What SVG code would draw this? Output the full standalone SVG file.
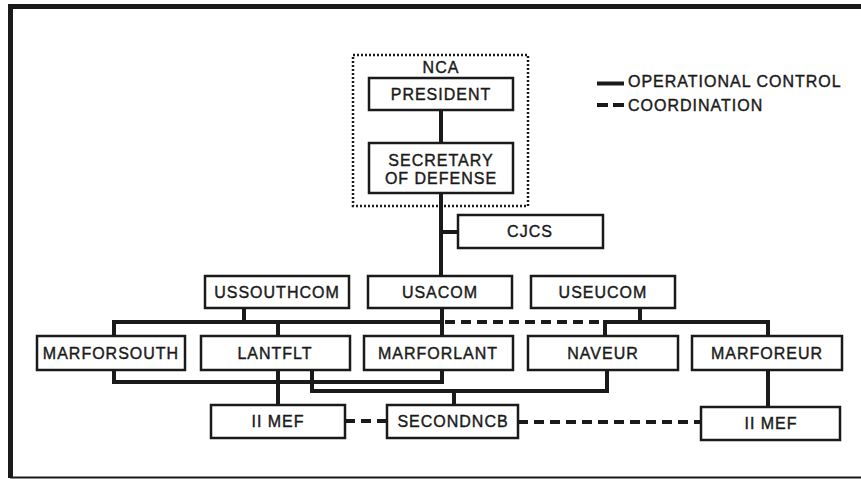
<svg xmlns="http://www.w3.org/2000/svg" width="861" height="479" viewBox="0 0 861 479">
<style>
.box{fill:#fff;stroke:#1a1a1a;stroke-width:2.5}
.t{font-family:"Liberation Sans",Arial,sans-serif;font-size:16px;letter-spacing:1px;fill:#1a1a1a;stroke:#1a1a1a;stroke-width:0.4;text-anchor:middle}
.lg{text-anchor:start}
.c{fill:none;stroke:#1a1a1a;stroke-width:4}
.d{fill:none;stroke:#1a1a1a;stroke-width:4;stroke-dasharray:10 6}
</style>
<rect width="861" height="479" fill="#fff"/>
<g id="frame">
<path d="M861 6.5H10.5V478" fill="none" stroke="#1a1a1a" stroke-width="5"/>
<path d="M10 477.5H861" fill="none" stroke="#1a1a1a" stroke-width="2"/>
</g>
<g id="legend">
<path d="M597 83.5H624" class="c"/>
<text x="628" y="87" class="t lg">OPERATIONAL CONTROL</text>
<path d="M597 105H624" class="c" stroke-dasharray="11 5"/>
<text x="628" y="111" class="t lg">COORDINATION</text>
</g>
<g id="connectors">
<path class="c" d="M441 110V143M441 193V276M441 232H458"/>
<path class="c" d="M244 308V322M114 336V322H442M278 322V336M442 308V336"/>
<path class="d" d="M445 322H603"/>
<path class="c" d="M640 308V322M605 336V322H768V336"/>
<path class="c" d="M114 370V382H442V370M278 370V405M312 370V391H607V370M454 391V405M768 370V407"/>
<path class="d" d="M345 421H387"/>
<path class="d" d="M518 422H701"/>
</g>
<g id="nca">
<rect x="353" y="55" width="175" height="151" fill="none" stroke="#1a1a1a" stroke-width="2.5" stroke-dasharray="2 2"/>
<text x="441" y="73" class="t">NCA</text>
</g>
<g id="president"><rect class="box" x="369" y="78" width="144" height="32"/><text x="441" y="100" class="t">PRESIDENT</text></g>
<g id="secdef"><rect class="box" x="369" y="143" width="144" height="50"/><text x="441" y="166" class="t">SECRETARY</text><text x="441" y="184" class="t">OF DEFENSE</text></g>
<g id="cjcs"><rect class="box" x="458" y="215" width="145" height="33"/><text x="530" y="237" class="t">CJCS</text></g>
<g id="ussouthcom"><rect class="box" x="205" y="276" width="144" height="32"/><text x="277" y="298" class="t">USSOUTHCOM</text></g>
<g id="usacom"><rect class="box" x="368" y="276" width="144" height="32"/><text x="440" y="298" class="t">USACOM</text></g>
<g id="useucom"><rect class="box" x="531" y="276" width="144" height="32"/><text x="603" y="298" class="t">USEUCOM</text></g>
<g id="marforsouth"><rect class="box" x="37" y="336" width="148" height="34"/><text x="111" y="359" class="t">MARFORSOUTH</text></g>
<g id="lantflt"><rect class="box" x="201" y="336" width="149" height="34"/><text x="275" y="359" class="t">LANTFLT</text></g>
<g id="marforlant"><rect class="box" x="364" y="336" width="149" height="34"/><text x="438" y="359" class="t">MARFORLANT</text></g>
<g id="naveur"><rect class="box" x="528" y="336" width="150" height="34"/><text x="603" y="359" class="t">NAVEUR</text></g>
<g id="marforeur"><rect class="box" x="692" y="336" width="150" height="34"/><text x="767" y="359" class="t">MARFOREUR</text></g>
<g id="iimef1"><rect class="box" x="211" y="405" width="134" height="33"/><text x="278" y="427" class="t">II MEF</text></g>
<g id="secondncb"><rect class="box" x="387" y="405" width="131" height="33"/><text x="453" y="427" class="t">SECONDNCB</text></g>
<g id="iimef2"><rect class="box" x="701" y="407" width="139" height="33"/><text x="771" y="429" class="t">II MEF</text></g>
</svg>
